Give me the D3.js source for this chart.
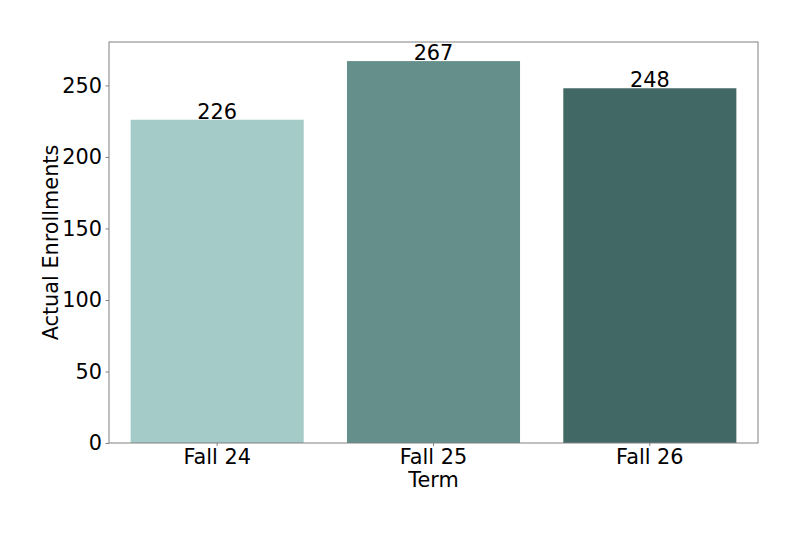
<!DOCTYPE html>
<html>
<head>
<meta charset="utf-8">
<script src="https://cdn.jsdelivr.net/npm/d3@7"></script>
<style>
  body { margin: 0; background: #fff; }
  svg text { font-family: "DejaVu Sans", sans-serif; fill: #000; }
</style>
</head>
<body>
<div id="chart"></div>
<script>
// Chart data
const terms = ["Fall 24", "Fall 25", "Fall 26"];
const enrollments = [226, 267, 248];
const barColors = ["#a5cbc8", "#658f8b", "#416864"];
const yTicks = [0, 50, 100, 150, 200, 250];

const width = 800, height = 533;
const margin = { top: 42, right: 42, bottom: 90, left: 109 };
const fontSize = "20.8px";

const svg = d3.select("#chart")
    .append("svg")
    .attr("width", width)
    .attr("height", height);

const xScale = d3.scaleBand()
    .domain(terms)
    .range([margin.left, width - margin.right])
    .paddingInner(0.2)
    .paddingOuter(0.1);

const yScale = d3.scaleLinear()
    .domain([0, d3.max(enrollments) * 1.05]) // matplotlib-like headroom
    .range([height - margin.bottom, margin.top]);

// Bars
svg.selectAll(".bar")
    .data(terms)
    .join("rect")
    .attr("class", "bar")
    .attr("x", (d) => xScale(d))
    .attr("y", (d, i) => yScale(enrollments[i]))
    .attr("width", xScale.bandwidth())
    .attr("height", (d, i) => yScale(0) - yScale(enrollments[i]))
    .attr("fill", (d, i) => barColors[i]);

// Value labels on top of bars
svg.selectAll(".value")
    .data(terms)
    .join("text")
    .attr("class", "value")
    .attr("x", (d) => xScale(d) + xScale.bandwidth() / 2)
    .attr("y", (d, i) => yScale(enrollments[i]) - 1)
    .attr("text-anchor", "middle")
    .attr("font-size", fontSize)
    .text((d, i) => enrollments[i]);

// Axes
const xAxis = svg.append("g")
    .attr("transform", `translate(0,${height - margin.bottom})`)
    .call(d3.axisBottom(xScale).tickSizeOuter(0).tickSize(3).tickPadding(3.5));

const yAxis = svg.append("g")
    .attr("transform", `translate(${margin.left},0)`)
    .call(d3.axisLeft(yScale).tickValues(yTicks).tickSizeOuter(0).tickSize(3.5).tickPadding(3.5));

[xAxis, yAxis].forEach((g) => {
    g.select(".domain").remove();
    g.selectAll(".tick line").attr("stroke", "#808080");
    g.selectAll(".tick text").attr("font-size", fontSize).attr("fill", "#000");
});

// Frame (spines)
svg.append("rect")
    .attr("x", margin.left)
    .attr("y", margin.top)
    .attr("width", width - margin.left - margin.right)
    .attr("height", height - margin.top - margin.bottom)
    .attr("fill", "none")
    .attr("stroke", "#808080")
    .attr("stroke-width", 1);

// Axis titles
svg.append("text")
    .attr("x", margin.left + (width - margin.left - margin.right) / 2)
    .attr("y", height - margin.bottom + 44)
    .attr("text-anchor", "middle")
    .attr("font-size", fontSize)
    .text("Term");

svg.append("text")
    .attr("transform", `translate(58,${margin.top + (height - margin.top - margin.bottom) / 2}) rotate(-90)`)
    .attr("text-anchor", "middle")
    .attr("font-size", fontSize)
    .text("Actual Enrollments");
</script>
</body>
</html>
